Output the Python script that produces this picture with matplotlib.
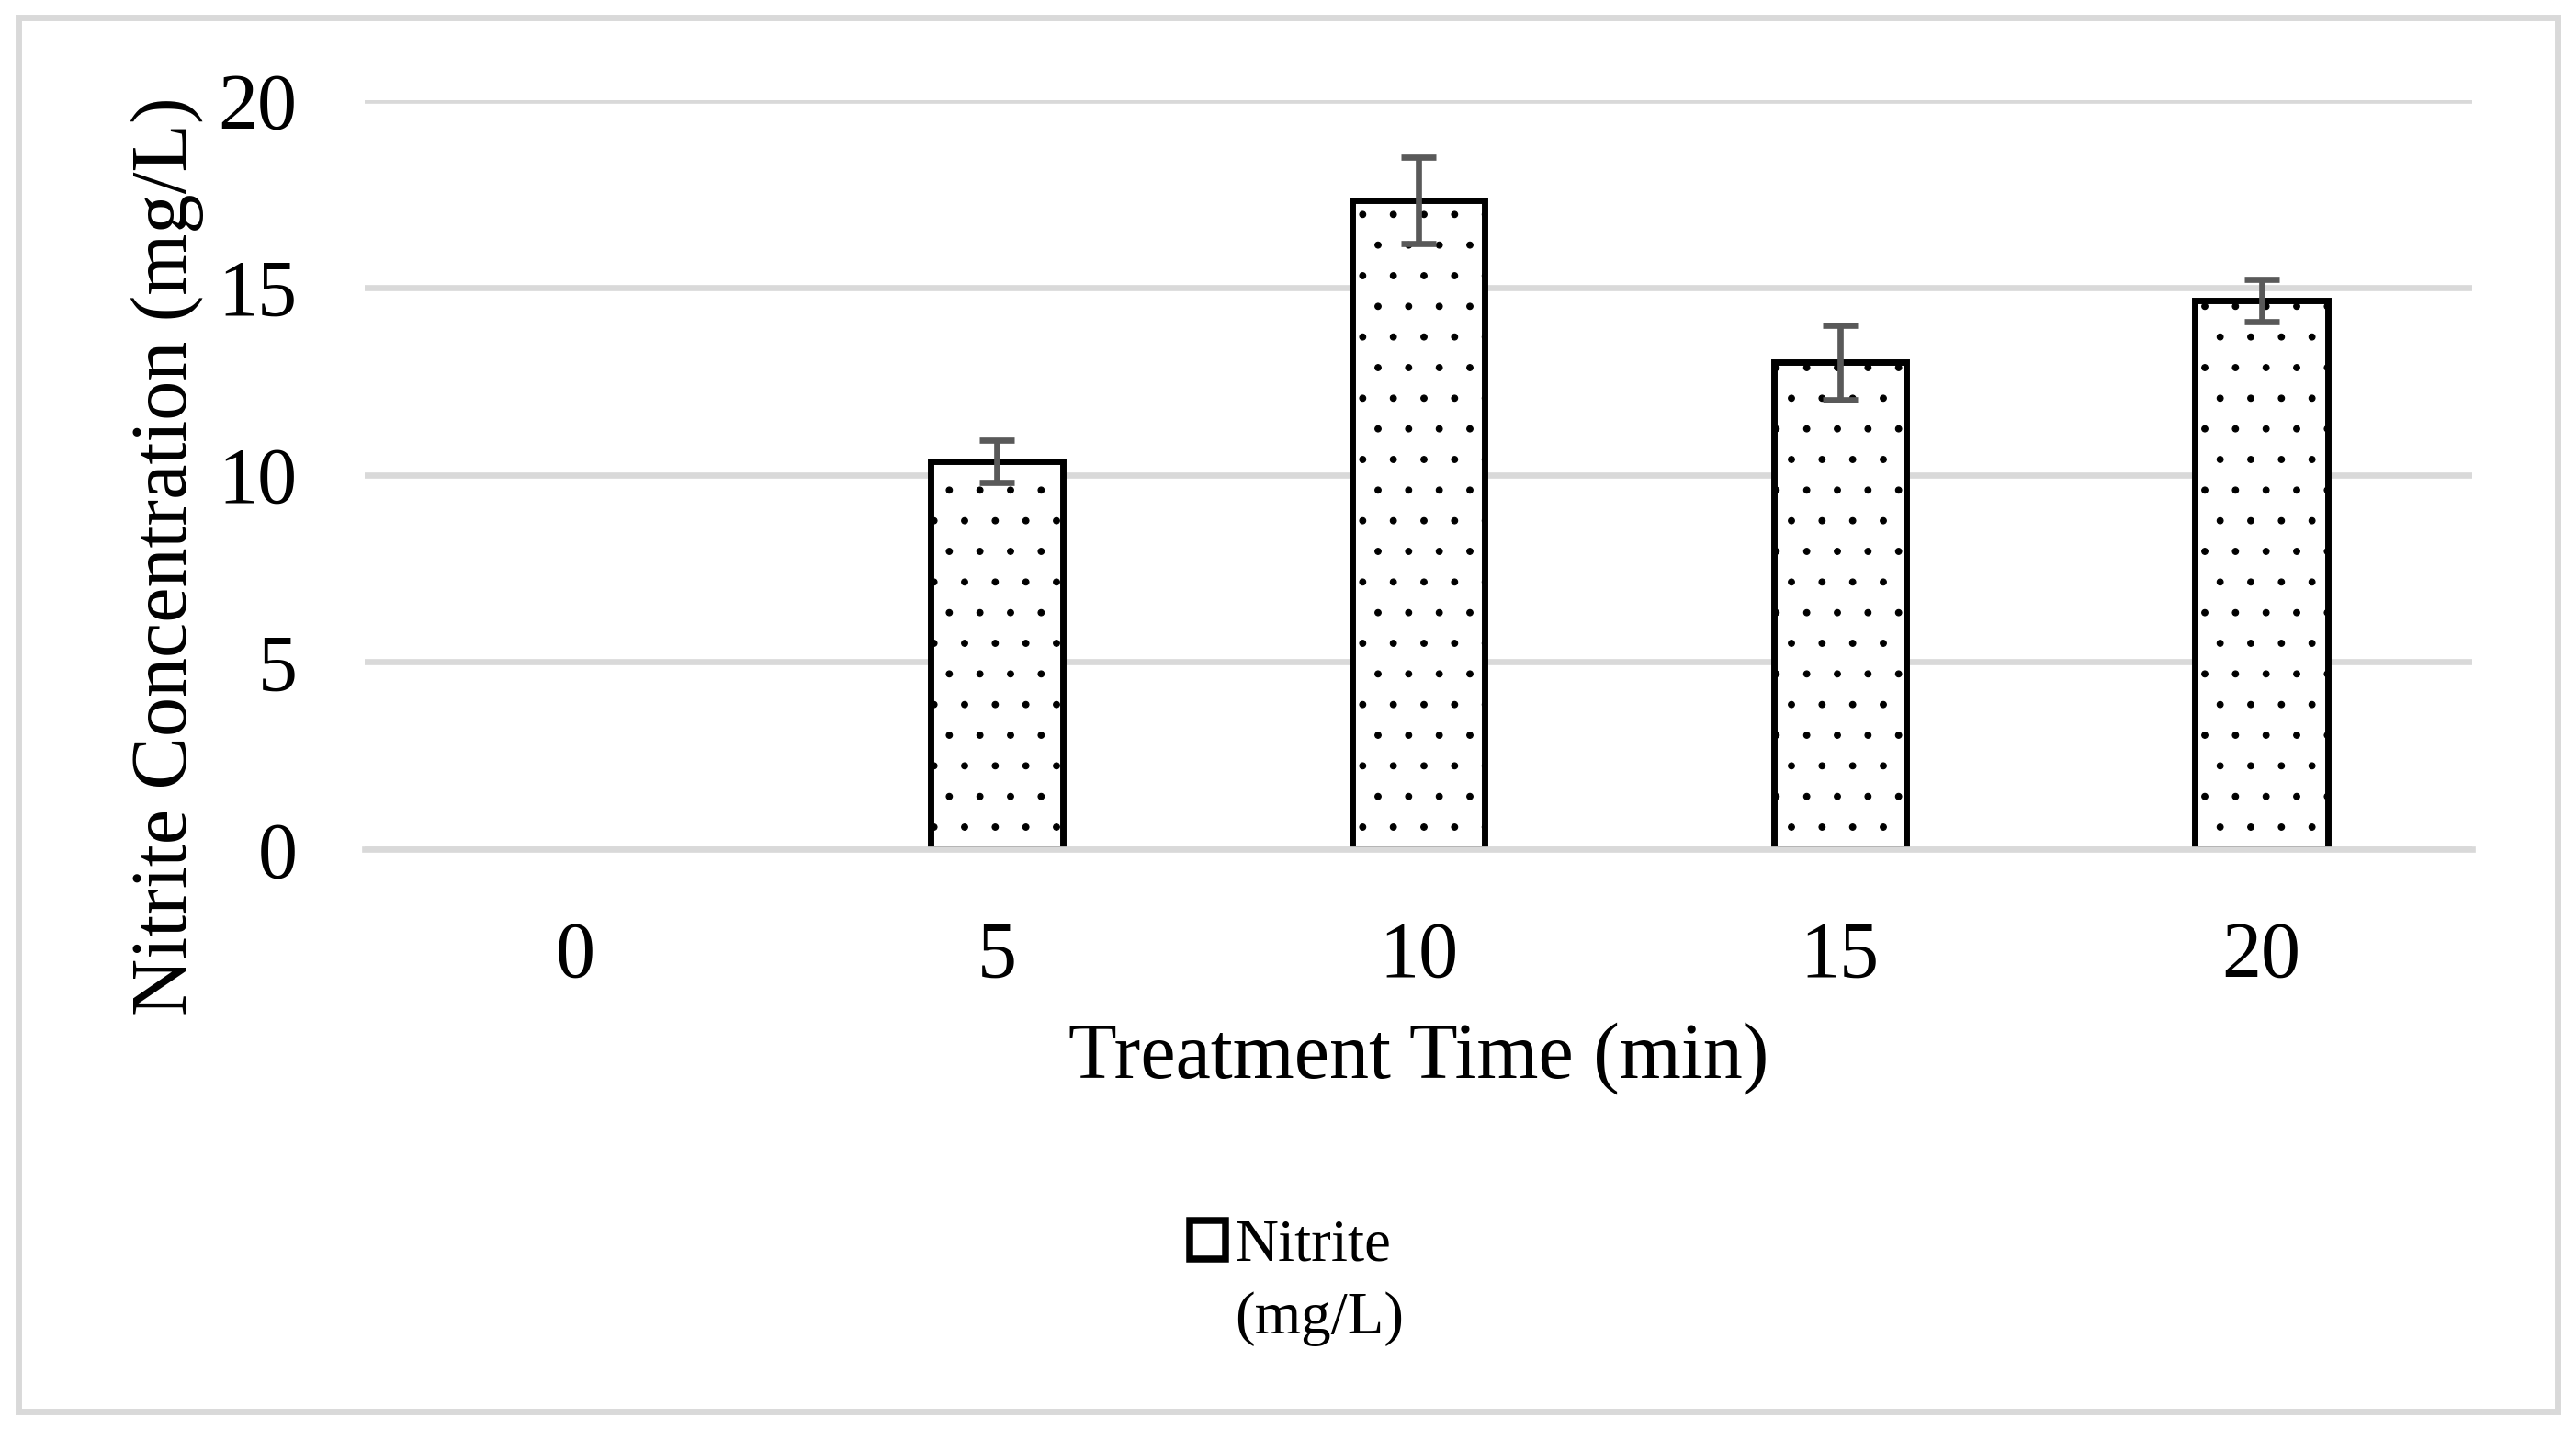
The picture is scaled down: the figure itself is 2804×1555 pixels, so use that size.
import numpy as np
import matplotlib
matplotlib.use("Agg")
import matplotlib.pyplot as plt
from matplotlib.patches import Patch, Rectangle

# data
times = ["0", "5", "10", "15", "20"]
nitrite = [0.0, 10.35, 17.33, 13.0, 14.65]
nitrite_err = [0.0, 0.57, 1.15, 1.0, 0.57]

plt.rcParams['font.family'] = ['Liberation Serif', 'DejaVu Serif']
plt.rcParams['hatch.linewidth'] = 0.4

GRID = '#D9D9D9'
ERR = '#595959'
W, H, DPI = 2804, 1555, 200


def main():
    fig = plt.figure(figsize=(W / DPI, H / DPI), dpi=DPI)
    ax = fig.add_axes([397 / W, 631 / H, (2691 - 397) / W, (924 - 109) / H])

    x = np.arange(len(times))
    vals = np.array(nitrite)
    errs = np.array(nitrite_err)
    shown = vals > 0

    bars = ax.bar(x, vals, width=0.315, color='white', edgecolor='black',
                  linewidth=2.5, hatch='.', zorder=1)
    for b, s in zip(bars, shown):
        b.set_visible(bool(s))
    ax.errorbar(x[shown], vals[shown], yerr=errs[shown], fmt='none',
                ecolor=ERR, elinewidth=2.4, capsize=6.8, capthick=2.4, zorder=3)

    ax.set_xlim(-0.5, len(times) - 0.5)
    ax.set_ylim(0, 20)
    ax.set_yticks([0, 5, 10, 15, 20])
    ax.set_xticks(x)
    ax.set_xticklabels(times)
    ax.set_axisbelow(True)
    ax.yaxis.grid(True, color=GRID, linewidth=2.4)
    for side in ['top', 'right', 'left']:
        ax.spines[side].set_visible(False)
    ax.spines['bottom'].set_color(GRID)
    ax.spines['bottom'].set_linewidth(2.4)
    ax.spines['bottom'].set_zorder(2.5)
    ax.tick_params(axis='y', length=0, pad=26.5, labelsize=31)
    ax.tick_params(axis='x', length=0, pad=28, labelsize=31)

    ax.set_xlabel('Treatment Time (min)', fontsize=31, labelpad=11)
    ax.set_ylabel('Nitrite Concentration (mg/L)', fontsize=31)
    ax.yaxis.set_label_coords(-0.0763, 0.391)

    handle = Patch(facecolor='white', edgecolor='black', linewidth=2.7)
    leg = fig.legend([handle], ['Nitrite'], loc='lower left',
                     bbox_to_anchor=(1295 / W, (H - 1386) / H),
                     frameon=False, fontsize=23.4, borderpad=0,
                     borderaxespad=0, handlelength=0.6, handleheight=0.6,
                     handletextpad=0.15)
    fig.canvas.draw()
    tb = leg.get_texts()[0].get_window_extent()
    fig.text(tb.x0 / W, (H - 1451) / H, '(mg/L)', fontsize=23.4,
             ha='left', va='baseline')

    # light gray frame around the whole chart
    fig.patches.append(Rectangle((20 / W, 19 / H), (2784 - 20) / W,
                                 (1536 - 19) / H, transform=fig.transFigure,
                                 fill=False, edgecolor=GRID, linewidth=2.5))

    fig.savefig('out.png', dpi=DPI, facecolor='white')
    plt.close(fig)


if __name__ == "__main__":
    main()
